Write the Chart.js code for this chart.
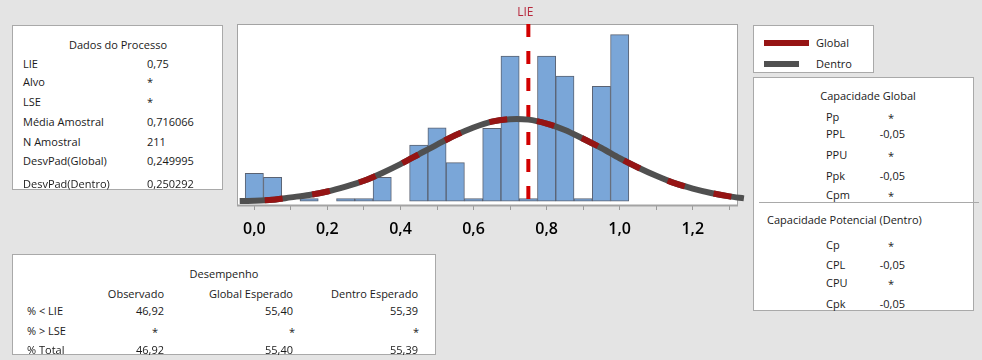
<!DOCTYPE html>
<html lang="pt">
<head>
<meta charset="utf-8">
<title>Capacidade do Processo</title>
<script src="https://cdn.jsdelivr.net/npm/chart.js@4.4.1/dist/chart.umd.min.js"></script>
<style>
  html, body { margin: 0; padding: 0; }
  body { width: 982px; height: 360px; background: #e4e4e4; font-family: "Open Sans", sans-serif; font-size: 11px; color: #1a1a1a; position: relative; overflow: hidden; }
  #chart { position: absolute; left: 0; top: 0; }
  .panel { position: absolute; background: #fff; border: 1px solid #a9a9a9; box-sizing: border-box; }
  .t { position: absolute; white-space: nowrap; line-height: 14px; transform: translateY(-50%); }
  .t.r { transform: translate(-100%, -50%); }
  .t.c { transform: translate(-50%, -50%); }
  .sw { position: absolute; height: 6px; }
  .sep { position: absolute; height: 1px; background: #a9a9a9; }
</style>
</head>
<body>
<canvas id="chart" width="982" height="360"></canvas>

<div class="panel" id="p-dados" style="left:12px; top:25px; width:211px; height:165px;"></div>
<div class="panel" id="p-desemp" style="left:12px; top:254px; width:424px; height:101px;"></div>
<div class="panel" id="p-legend" style="left:753px; top:25px; width:121px; height:48px;"></div>
<div class="panel" id="p-cap" style="left:753px; top:77px; width:221px; height:234px;"></div>

<script>
// HISTOGRAMA (centro da classe, altura)
const binCenters = [0.00, 0.05, 0.10, 0.15, 0.20, 0.25, 0.30, 0.35, 0.40, 0.45, 0.50, 0.55, 0.60, 0.65, 0.70, 0.75, 0.80, 0.85, 0.90, 0.95, 1.00];
const binHeights = [5.7, 4.9, null, 0.55, null, 0.55, 0.55, 4.9, null, 11.5, 15.0, 7.9, 0.55, 14.9, 29.7, 0.55, 29.7, 25.6, 0.55, 23.5, 34.1];

// CURVAS NORMAIS
const curveX = [-0.04, 0.00, 0.05, 0.10, 0.15, 0.20, 0.25, 0.30, 0.35, 0.40, 0.45, 0.50, 0.55, 0.60, 0.65, 0.70, 0.75, 0.80, 0.85, 0.90, 0.95, 1.00, 1.05, 1.10, 1.15, 1.20, 1.25, 1.30, 1.34];
const curveGlobal = [0.05, 0.1, 0.3, 0.8, 1.3, 2.0, 3.0, 4.2, 5.8, 7.6, 9.6, 11.6, 13.5, 15.1, 16.3, 16.8, 16.7, 15.9, 14.6, 12.8, 10.9, 8.8, 6.9, 5.2, 3.7, 2.6, 1.7, 1.0, 0.6];
const curveDentro = [0.05, 0.1, 0.3, 0.8, 1.3, 2.0, 3.0, 4.2, 5.8, 7.6, 9.6, 11.6, 13.5, 15.1, 16.3, 16.8, 16.7, 15.9, 14.6, 12.8, 10.9, 8.8, 6.9, 5.2, 3.7, 2.6, 1.7, 1.0, 0.6];

const lie = 0.75;
const xTicks = [0.0, 0.1, 0.2, 0.3, 0.4, 0.5, 0.6, 0.7, 0.8, 0.9, 1.0, 1.1, 1.2, 1.3];
const xTickLabels = ['0,0', '', '0,2', '', '0,4', '', '0,6', '', '0,8', '', '1,0', '', '1,2', ''];

// TABELAS
const processLabels = ['LIE', 'Alvo', 'LSE', 'Média Amostral', 'N Amostral', 'DesvPad(Global)', 'DesvPad(Dentro)'];
const processValues = ['0,75', '*', '*', '0,716066', '211', '0,249995', '0,250292'];
const perfCols = ['Observado', 'Global Esperado', 'Dentro Esperado'];
const perfRows = ['% < LIE', '% > LSE', '% Total'];
const perfValues = [['46,92', '55,40', '55,39'], ['*', '*', '*'], ['46,92', '55,40', '55,39']];
const globalLabels = ['Pp', 'PPL', 'PPU', 'Ppk', 'Cpm'];
const globalValues = ['*', '-0,05', '*', '-0,05', '*'];
const withinLabels = ['Cp', 'CPL', 'CPU', 'Cpk'];
const withinValues = ['*', '-0,05', '*', '-0,05'];

const RED = '#961414';
const GRAY = '#505050';

function addText(panel, s, x, y, cls) {
    const el = document.createElement('span');
    el.className = 't' + (cls ? ' ' + cls : '');
    el.style.left = x + 'px';
    el.style.top = y + 'px';
    el.textContent = s;
    panel.appendChild(el);
}

function buildPanels() {
    const d = document.getElementById('p-dados');
    addText(d, 'Dados do Processo', 105, 19, 'c');
    const dY = [38, 56, 76, 96, 116, 135, 158];
    processLabels.forEach((l, i) => {
        addText(d, l, 10, dY[i]);
        addText(d, processValues[i], 134, dY[i]);
    });

    const p = document.getElementById('p-desemp');
    addText(p, 'Desempenho', 211, 19, 'c');
    const colRight = [151, 280, 405];
    const starX = [142, 279, 403];
    const pY = [56, 76, 95];
    perfCols.forEach((c, j) => addText(p, c, colRight[j], 39, 'r'));
    perfRows.forEach((r, i) => {
        addText(p, r, 14, pY[i]);
        perfValues[i].forEach((v, j) => {
            if (v === '*') addText(p, v, starX[j], pY[i] + 1, 'c');
            else addText(p, v, colRight[j], pY[i], 'r');
        });
    });

    const lg = document.getElementById('p-legend');
    lg.innerHTML = `<div class="sw" style="left:10px; top:14px; width:45px; background:${RED}"></div>
        <div class="sw" style="left:10px; top:35px; width:35px; background:${GRAY}"></div>`;
    addText(lg, 'Global', 62, 17);
    addText(lg, 'Dentro', 62, 38);

    const cp = document.getElementById('p-cap');
    addText(cp, 'Capacidade Global', 114, 18, 'c');
    const gY = [39, 56, 77, 98, 117];
    globalLabels.forEach((l, i) => {
        addText(cp, l, 72, gY[i]);
        if (globalValues[i] === '*') addText(cp, '*', 137, gY[i] + 1, 'c');
        else addText(cp, globalValues[i], 151, gY[i], 'r');
    });
    const sep = document.createElement('div');
    sep.className = 'sep';
    sep.style.cssText = 'left:5px; top:124px; width:220px;';
    cp.appendChild(sep);
    addText(cp, 'Capacidade Potencial (Dentro)', 13, 142);
    const wY = [167, 187, 205, 226];
    withinLabels.forEach((l, i) => {
        addText(cp, l, 72, wY[i]);
        if (withinValues[i] === '*') addText(cp, '*', 137, wY[i] + 1, 'c');
        else addText(cp, withinValues[i], 151, wY[i], 'r');
    });
}

// moldura branca + rótulo LIE
const framePlugin = {
    id: 'frame',
    beforeDraw(chart) {
        const a = chart.chartArea, ctx = chart.ctx;
        ctx.save();
        ctx.fillStyle = '#ffffff';
        ctx.fillRect(a.left, a.top, a.right - a.left, a.bottom - a.top);
        ctx.restore();
    },
    beforeDatasetsDraw(chart) {
        const a = chart.chartArea, ctx = chart.ctx;
        ctx.save();
        ctx.strokeStyle = '#a3a3a3';
        ctx.lineWidth = 1;
        ctx.strokeRect(a.left + 0.5, a.top + 0.5, a.right - a.left - 1, a.bottom - a.top);
        ctx.fillStyle = '#a3a3a3';
        ctx.fillRect(a.left, a.bottom - 0.5, a.right - a.left, 2);
        ctx.restore();
    },
    afterDraw(chart) {
        const ctx = chart.ctx;
        const x = chart.scales.x.getPixelForValue(lie);
        ctx.save();
        ctx.fillStyle = '#b8283c';
        ctx.font = '12px "Open Sans"';
        ctx.textAlign = 'center';
        ctx.textBaseline = 'middle';
        ctx.fillText('LIE', x - 3, 13);
        ctx.restore();
    }
};

function renderChart() {
    const ctx = document.getElementById('chart').getContext('2d');
    new Chart(ctx, {
        type: 'bar',
        data: {
            datasets: [
                {
                    type: 'line', label: 'Global', order: 0,
                    data: curveX.map((x, i) => ({ x, y: curveGlobal[i] })),
                    borderColor: RED, borderWidth: 6, borderDash: [18, 30], borderDashOffset: 23,
                    borderCapStyle: 'butt', tension: 0.3, pointRadius: 0, clip: false
                },
                {
                    type: 'line', label: 'Dentro', order: 1,
                    data: curveX.map((x, i) => ({ x, y: curveDentro[i] })),
                    borderColor: GRAY, borderWidth: 6,
                    borderCapStyle: 'butt', tension: 0.3, pointRadius: 0, clip: false
                },
                {
                    type: 'line', label: 'LIE', order: 2,
                    data: [{ x: lie, y: 36.26 }, { x: lie, y: -0.76 }],
                    borderColor: '#d20000', borderWidth: 4, borderDash: [13, 14], borderDashOffset: 0,
                    borderCapStyle: 'butt', pointRadius: 0, clip: false
                },
                {
                    type: 'bar', label: 'Histograma', order: 3,
                    data: binCenters.map((x, i) => ({ x, y: binHeights[i] })),
                    backgroundColor: '#7aa6d8', borderColor: '#5a6272', borderWidth: 1,
                    borderSkipped: false, barPercentage: 1, categoryPercentage: 1
                }
            ]
        },
        options: {
            responsive: false,
            animation: false,
            layout: { padding: { left: 237, top: 24, right: 244, bottom: 115 } },
            plugins: { legend: { display: false }, tooltip: { enabled: false } },
            scales: {
                x: {
                    type: 'linear', min: -0.0474, max: 1.3238, offset: false,
                    afterBuildTicks: s => { s.ticks = xTicks.map(v => ({ value: v })); },
                    afterFit: s => { s.height = 40; },
                    ticks: {
                        autoSkip: false, maxRotation: 0, padding: 10, color: '#000',
                        font: { family: 'Open Sans', size: 16, weight: '600' },
                        callback: (v, i) => xTickLabels[i]
                    },
                    grid: { drawOnChartArea: false, offset: false, tickLength: 5, color: '#9a9a9a' },
                    border: { display: false }
                },
                y: { display: false, min: -0.76, max: 36.26 }
            }
        },
        plugins: [framePlugin]
    });
}

window.onload = () => { buildPanels(); renderChart(); };
</script>
</body>
</html>
